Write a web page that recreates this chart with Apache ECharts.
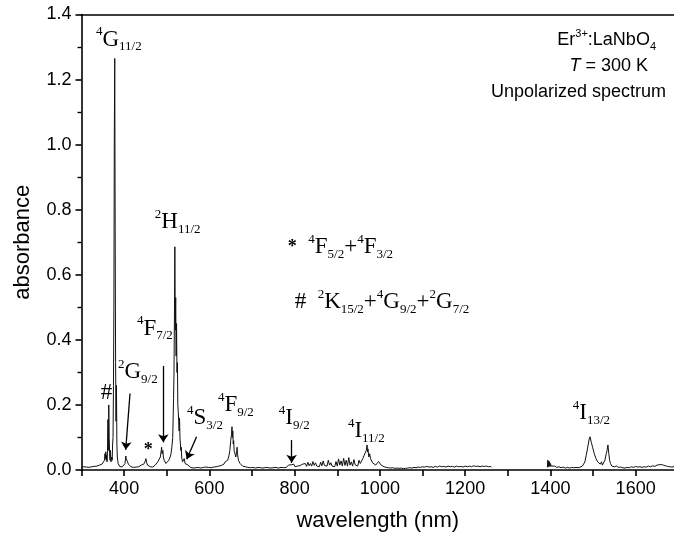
<!DOCTYPE html>
<html><head><meta charset="utf-8">
<script src="https://cdn.jsdelivr.net/npm/echarts@6.0.0/dist/echarts.min.js"></script>
<style>html,body{margin:0;padding:0;background:#fff}#c{width:674px;height:537px}</style>
</head><body><div id="c"></div>
<script>
const wavelength = [
300,303,306,309,312,315,318,321,324,327,330,333,336,339,342,345,348,350,352,354,355,356,357,358,359,360,
361,362,363,364,365,366,367,368,369,370,371,372,373,374,375,376,377,378,379,380,381,382,383,384,385,386,388,390,
392,394,396,398,400,402,404,405,406,408,410,413,416,419,422,425,428,431,434,437,440,443,446,449,451,453,455,458,
461,464,467,470,473,476,479,482,485,487,488,489,490,491,492,494,496,498,500,502,505,508,510,512,514,515,516,517,
518,519,520,521,522,523,524,525,526,527,528,529,530,531,532,533,534,535,537,539,541,543,545,547,550,553,
556,559,562,565,568,571,574,577,580,583,586,589,592,595,598,601,604,607,610,613,616,619,622,625,628,631,634,637,640,
643,646,648,650,652,653,654,655,656,657,658,660,662,664,665,666,668,670,672,675,678,681,684,687,690,
693,696,699,702,705,708,711,714,717,720,723,726,729,732,735,738,741,744,747,750,753,756,759,762,765,768,771,774,777,780,
783,786,789,792,795,798,801,804,807,810,813,816,819,822,825,828,831,834,837,840,843,846,849,852,855,858,861,864,867,870,
873,876,879,882,885,888,891,894,897,900,903,906,909,912,915,918,921,924,927,930,933,936,939,942,945,948,951,954,957,960,
963,966,968,970,971,972,974,976,978,980,983,986,990,994,997,1000,1003,1006,1010,1015,1020,
1025,1030,1035,1040,1045,1050,1055,1060,1065,1070,1075,1080,1085,1090,1095,1100,1105,1110,1115,1120,1125,1130,1135,1140,
1145,1150,1155,1160,1165,1170,1175,1180,1185,1190,1195,1200,1205,1210,1215,1220,1225,1230,1235,1240,1245,1250,1255,1260,1262,
1330,
1393,1394,1395,1396,1397,1398,1399,1400,1402,1404,1406,1410,1415,1420,1425,1430,1435,1440,1445,1450,1455,1460,1465,1470,
1475,1478,1481,1484,1487,1489,1491,1493,1495,1496,1497,1499,1501,1503,1505,1507,1509,1511,1514,1517,1520,1522,1525,1528,
1531,1533,1535,1537,1539,1541,1544,1547,1550,1555,1560,1565,1570,1575,1580,1585,1590,1595,1600,1605,1610,1615,1620,1625,
1630,1635,1640,1645,1650,1655,1660,1665,1670,1675,1680,1685,1690
];
const absorbance = [
.008,.005,.010,.006,.009,.004,.008,.006,.010,.007,.011,.008,.012,.010,.015,.013,.018,.016,.022,.030,.050,.035,.056,.030,.045,.025,
.060,.155,.060,.200,.100,.050,.030,.060,.025,.020,.040,.030,.080,.100,.260,.510,1.030,1.265,.740,.330,.150,.260,.080,.040,.030,.020,.015,.010,
.012,.008,.010,.012,.015,.020,.043,.035,.040,.025,.018,.012,.010,.013,.008,.012,.009,.013,.010,.012,.015,.012,.018,.025,.035,.022,.015,.012,
.010,.013,.009,.012,.015,.020,.025,.030,.040,.060,.070,.050,.045,.060,.040,.030,.025,.020,.020,.025,.030,.040,.050,.070,.100,.160,.220,.300,
.470,.686,.430,.530,.350,.450,.300,.330,.200,.180,.150,.120,.160,.100,.080,.060,.070,.040,.025,.030,.035,.020,.025,.018,.015,.012,
.008,.011,.006,.010,.007,.012,.008,.010,.006,.011,.008,.012,.009,.013,.008,.011,.007,.012,.009,.013,.010,.015,.012,.016,.014,.020,.018,.025,.020,
.030,.045,.060,.090,.110,.133,.100,.120,.080,.090,.060,.050,.040,.056,.070,.050,.030,.035,.020,.018,.012,.014,.010,.012,.008,
.011,.007,.012,.008,.010,.006,.011,.008,.012,.007,.010,.006,.011,.008,.012,.007,.010,.006,.010,.007,.012,.008,.011,.006,.010,.008,.011,.007,.010,.008,
.012,.015,.010,.016,.012,.018,.010,.007,.012,.008,.014,.010,.018,.012,.020,.011,.024,.013,.020,.012,.026,.014,.022,.012,.018,.010,.024,.013,.028,.014,
.020,.012,.030,.015,.022,.012,.018,.010,.026,.012,.034,.015,.028,.012,.036,.014,.030,.012,.038,.015,.025,.012,.032,.016,.022,.012,.030,.020,.025,.035,
.045,.040,.060,.077,.055,.065,.040,.050,.035,.030,.022,.018,.015,.020,.026,.022,.015,.012,.010,.008,.007,
.006,.007,.005,.006,.005,.006,.004,.005,.006,.007,.006,.008,.007,.009,.008,.010,.009,.011,.009,.010,.008,.011,.009,.012,
.010,.011,.009,.012,.010,.011,.009,.012,.010,.011,.009,.012,.010,.012,.010,.013,.011,.012,.010,.012,.011,.012,.010,.011,.008,
null,
.008,.030,.010,.028,.012,.025,.010,.020,.012,.015,.010,.012,.008,.010,.007,.009,.006,.008,.006,.008,.007,.008,.007,.009,
.012,.015,.025,.045,.065,.080,.095,.102,.098,.085,.090,.070,.075,.050,.055,.035,.040,.025,.030,.018,.025,.015,.020,.030,
.050,.060,.077,.050,.030,.020,.012,.015,.010,.012,.008,.009,.007,.006,.008,.007,.010,.008,.011,.009,.010,.008,.010,.009,
.012,.010,.013,.011,.015,.016,.017,.015,.013,.011,.010,.009,.010
];
const xTickLabels = [400, 600, 800, 1000, 1200, 1400, 1600];
const yTickLabels = ['0.0','0.2','0.4','0.6','0.8','1.0','1.2','1.4'];

const series = wavelength.map((w, i) => [w, absorbance[i] === null ? '-' : absorbance[i]]);

const chart = echarts.init(document.getElementById('c'), null, {renderer: 'canvas'});
const sans = 'Liberation Sans';
const serif = 'Liberation Serif';
const axisCommon = {
  axisLine: {show: true, onZero: false, lineStyle: {color: '#000', width: 1.6}},
  splitLine: {show: false}
};
const option = {
  animation: false,
  backgroundColor: '#fff',
  grid: {left: 81.5, right: 0, top: 14.5, bottom: 67, containLabel: false},
  xAxis: [{
    type: 'value', min: 300, max: 1690, interval: 100,
    ...axisCommon,
    axisTick: {show: true, length: 6, inside: false, lineStyle: {color: '#000', width: 1.6}},
    axisLabel: {
      color: '#000', fontFamily: sans, fontSize: 18, margin: 10, showMaxLabel: false,
      formatter: v => xTickLabels.includes(v) ? String(v) : ''
    },
    name: 'wavelength (nm)', nameLocation: 'middle', nameGap: 40,
    nameTextStyle: {color: '#000', fontFamily: sans, fontSize: 22}
  }, {
    type: 'value', min: 300, max: 1690, position: 'top',
    ...axisCommon,
    axisTick: {show: false}, axisLabel: {show: false}
  }],
  yAxis: {
    type: 'value', min: 0, max: 1.4, interval: 0.2,
    ...axisCommon,
    axisTick: {show: true, length: 6, lineStyle: {color: '#000', width: 1.6}},
    minorTick: {show: true, splitNumber: 2, length: 4, lineStyle: {color: '#000', width: 1.4}},
    axisLabel: {
      color: '#000', fontFamily: sans, fontSize: 18, margin: 10,
      formatter: v => yTickLabels[Math.round(v / 0.2)]
    },
    name: 'absorbance', nameLocation: 'middle', nameGap: 48, nameRotate: 90,
    nameTextStyle: {color: '#000', fontFamily: sans, fontSize: 22}
  },
  series: [{
    type: 'line', data: series, xAxisIndex: 0, yAxisIndex: 0,
    showSymbol: false, symbol: 'none', connectNulls: false,
    lineStyle: {color: '#111', width: 1},
    silent: true,
    markLine: {
      silent: true, animation: false,
      symbol: ['none', 'arrow'], symbolSize: 8,
      label: {show: false},
      lineStyle: {color: '#000', width: 1.3, type: 'solid'},
      emphasis: {disabled: true},
      data: [
        [{coord: [413.8, 0.235]}, {coord: [403.7, 0.062]}],
        [{coord: [491.9, 0.32]}, {coord: [491.9, 0.085]}],
        [{coord: [570, 0.102]}, {coord: [546.8, 0.033]}],
        [{coord: [793, 0.092]}, {coord: [793, 0.022]}]
      ]
    }
  }]
};
chart.setOption(option);

const rich = {
  sup: {fontFamily: serif, fontSize: 13, lineHeight: 13, verticalAlign: 'top', fill: '#000', color: '#000'},
  m: {fontFamily: serif, fontSize: 23, lineHeight: 28, fill: '#000', color: '#000'},
  sub: {fontFamily: serif, fontSize: 13, lineHeight: 13, verticalAlign: 'bottom', fill: '#000', color: '#000'},
  ast: {fontFamily: serif, fontSize: 18, fontWeight: 'bold', lineHeight: 28, fill: '#000', color: '#000'},
  n: {fontFamily: sans, fontSize: 18, lineHeight: 24, fill: '#000', color: '#000'},
  i: {fontFamily: sans, fontSize: 18, fontStyle: 'italic', lineHeight: 24, fill: '#000', color: '#000'},
  ns: {fontFamily: sans, fontSize: 11, lineHeight: 11, verticalAlign: 'top', fill: '#000', color: '#000'},
  nb: {fontFamily: sans, fontSize: 11, lineHeight: 11, verticalAlign: 'bottom', fill: '#000', color: '#000'}
};
const annotations = [
  {at: [334, 1.323], text: '{sup|4}{m|G}{sub|11/2}'},
  {at: [472, 0.761], text: '{sup|2}{m|H}{sub|11/2}'},
  {at: [784, 0.685], text: '{ast|*}{m|  }{sup|4}{m|F}{sub|5/2}{m|+}{sup|4}{m|F}{sub|3/2}'},
  {at: [800, 0.516], text: '{m|#  }{sup|2}{m|K}{sub|15/2}{m|+}{sup|4}{m|G}{sub|9/2}{m|+}{sup|2}{m|G}{sub|7/2}'},
  {at: [430, 0.435], text: '{sup|4}{m|F}{sub|7/2}'},
  {at: [385.6, 0.30], text: '{sup|2}{m|G}{sub|9/2}'},
  {at: [345, 0.236], text: '{m|#}'},
  {at: [446, 0.061], text: '{ast|*}'},
  {at: [547.5, 0.16], text: '{sup|4}{m|S}{sub|3/2}'},
  {at: [620, 0.20], text: '{sup|4}{m|F}{sub|9/2}'},
  {at: [763, 0.16], text: '{sup|4}{m|I}{sub|9/2}'},
  {at: [925, 0.12], text: '{sup|4}{m|I}{sub|11/2}'},
  {at: [1452.6, 0.175], text: '{sup|4}{m|I}{sub|13/2}'}
];
const graphics = annotations.map(a => {
  const p = chart.convertToPixel({seriesIndex: 0}, a.at);
  return {type: 'text', x: p[0], y: p[1], silent: true,
    style: {text: a.text, rich: rich, align: 'left', textAlign: 'left', verticalAlign: 'middle', textVerticalAlign: 'middle', fill: '#000'}};
});
graphics.push(
  {type: 'text', x: 656, y: 40, silent: true, style: {text: '{n|Er}{ns|3+}{n|:LaNbO}{nb|4}', rich, align: 'right', textAlign: 'right', verticalAlign: 'middle', textVerticalAlign: 'middle'}},
  {type: 'text', x: 648, y: 66, silent: true, style: {text: '{i|T}{n| = 300 K}', rich, align: 'right', textAlign: 'right', verticalAlign: 'middle', textVerticalAlign: 'middle'}},
  {type: 'text', x: 666, y: 92, silent: true, style: {text: '{n|Unpolarized spectrum}', rich, align: 'right', textAlign: 'right', verticalAlign: 'middle', textVerticalAlign: 'middle'}}
);
chart.setOption({graphic: graphics});
</script>
</body></html>
